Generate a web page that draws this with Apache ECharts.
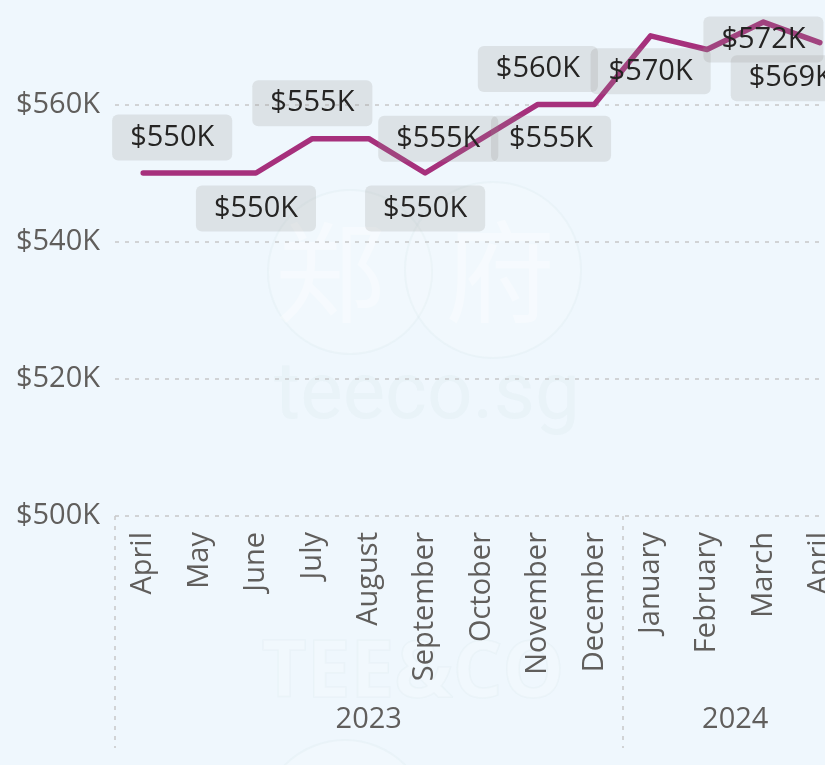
<!DOCTYPE html>
<html>
<head>
<meta charset="utf-8">
<script src="https://cdn.jsdelivr.net/npm/echarts@6/dist/echarts.min.js"></script>
<style>
  html, body { margin: 0; padding: 0; background: #eff7fd; overflow: hidden; }
  #chart { width: 860px; height: 765px; }
</style>
</head>
<body>
<div id="chart"></div>
<script>
// months shown on the axis (Apr 2023 .. Apr 2024)
const months = ["April", "May", "June", "July", "August", "September", "October",
                "November", "December", "January", "February", "March", "April"];
const years      = ["2023", "2024"];
const yearMonths = [9, 4];           // how many months of each year are visible
const prices     = [550, 550, 550, 555, 555, 550, 555, 560, 560, 570, 568, 572, 569]; // $K
const yMin = 500, yMax = 575, yStep = 20;

// where Power BI put each data label (null = hidden), with its nudge in px
const labelPlace = [
  { pos: "top",    dx: 29 },
  null,
  { pos: "bottom" },
  { pos: "top" },
  { pos: "right" },
  { pos: "bottom" },
  { pos: "right" },
  { pos: "top" },
  null,
  { pos: "bottom" },
  null,
  { pos: "bottom", dy: -18 },
  { pos: "bottom", dx: -29 },
];

const FONT  = "'Segoe UI', 'Open Sans', sans-serif";
const GREY  = "#605e5c";
const DASH  = "#c8c8c8";

const n = months.length;
const seriesData = prices.map((v, i) => {
  const p = labelPlace[i];
  if (!p) return { value: v, label: { show: false } };
  return {
    value: v,
    label: { show: true, position: p.pos, distance: p.pos === "right" ? 9 : 12 },
  };
});

// year group centres / separators in axis units (category i sits at value i)
const yearCentres = [], yearEdges = [-0.5];
let start = 0;
yearMonths.forEach((c) => {
  yearCentres.push(start + (c - 1) / 2);
  start += c;
  if (start < n) yearEdges.push(start - 0.5);
});

const wm = { fill: "rgba(255,255,255,0.12)", stroke: "rgba(214,232,234,0.25)", lineWidth: 2 };

const chart = echarts.init(document.getElementById("chart"));
chart.setOption({
  backgroundColor: "#eff7fd",
  animation: false,
  grid: { left: 115, top: 1.5, height: 514.5, width: 733 },
  graphic: [
    { type: "circle", z: -1, silent: true, shape: { cx: 350, cy: 272, r: 82 }, style: wm },
    { type: "circle", z: -1, silent: true, shape: { cx: 493, cy: 270, r: 88 }, style: wm },
    { type: "circle", z: -1, silent: true, shape: { cx: 345, cy: 825, r: 85 }, style: wm },
    { type: "text", z: -1, silent: true, x: 330, y: 272,
      style: { text: "郑", font: "110px 'Noto Sans CJK SC'", fill: "rgba(255,255,255,0.35)",
               align: "center", verticalAlign: "middle" } },
    { type: "text", z: -1, silent: true, x: 500, y: 272,
      style: { text: "府", font: "110px 'Noto Sans CJK SC'", fill: "rgba(255,255,255,0.35)",
               align: "center", verticalAlign: "middle" } },
    { type: "text", z: -1, silent: true, x: 427, y: 398,
      style: { text: "teeco.sg", font: "80px Roboto", fill: "rgba(214,232,234,0.25)",
               align: "center", verticalAlign: "middle" } },
    { type: "text", z: -1, silent: true, x: 413, y: 675,
      style: { text: "TEE&CO", font: "bold 78px 'Open Sans'", fill: "rgba(255,255,255,0.15)",
               stroke: "rgba(214,232,234,0.25)", lineWidth: 1.5,
               align: "center", verticalAlign: "middle" } },
  ],
  xAxis: [
    {
      type: "category",
      data: months,
      boundaryGap: true,
      axisLine: { show: false },
      axisTick: { show: false },
      axisLabel: { rotate: 90, margin: 16, color: GREY, fontSize: 29, fontFamily: FONT },
      splitLine: { show: false },
    },
    {
      type: "value",
      position: "bottom",
      min: -0.5,
      max: n - 0.5,
      axisLine: { show: false },
      splitLine: { show: false },
      axisTick: {
        show: true,
        length: 232,
        customValues: yearEdges,
        lineStyle: { color: DASH, width: 1.5, type: [4, 6] },
      },
      axisLabel: {
        show: true,
        customValues: yearCentres,
        margin: 189,
        color: GREY,
        fontSize: 29,
        fontFamily: FONT,
        formatter: (v) => years[yearCentres.findIndex((c) => Math.abs(c - v) < 1e-6)] || "",
      },
    },
  ],
  yAxis: {
    type: "value",
    min: yMin,
    max: yMax,
    interval: yStep,
    axisLine: { show: false },
    axisTick: { show: false },
    axisLabel: {
      margin: 15,
      color: GREY,
      fontSize: 29,
      fontFamily: FONT,
      showMaxLabel: false,
      formatter: (v) => "$" + v + "K",
    },
    splitLine: {
      show: true,
      showMaxLine: false,
      lineStyle: { color: DASH, width: 1.5, type: [4, 6] },
    },
  },
  series: [
    {
      type: "line",
      data: seriesData,
      symbol: "circle",
      symbolSize: 1,
      showSymbol: true,
      itemStyle: { color: "rgba(0,0,0,0)" },
      lineStyle: { color: "#a6307c", width: 5.5, cap: "round", join: "round" },
      label: {
        color: "#252423",
        fontSize: 29,
        fontFamily: FONT,
        lineHeight: 36,
        padding: [5, 18],
        backgroundColor: "rgba(144,147,138,0.2)",
        borderRadius: 6,
        formatter: (p) => "$" + Math.round(p.value) + "K",
      },
      labelLayout: (params) => {
        const p = labelPlace[params.dataIndex];
        return { dx: (p && p.dx) || 0, dy: (p && p.dy) || 0, hideOverlap: false };
      },
    },
  ],
});
</script>
</body>
</html>
